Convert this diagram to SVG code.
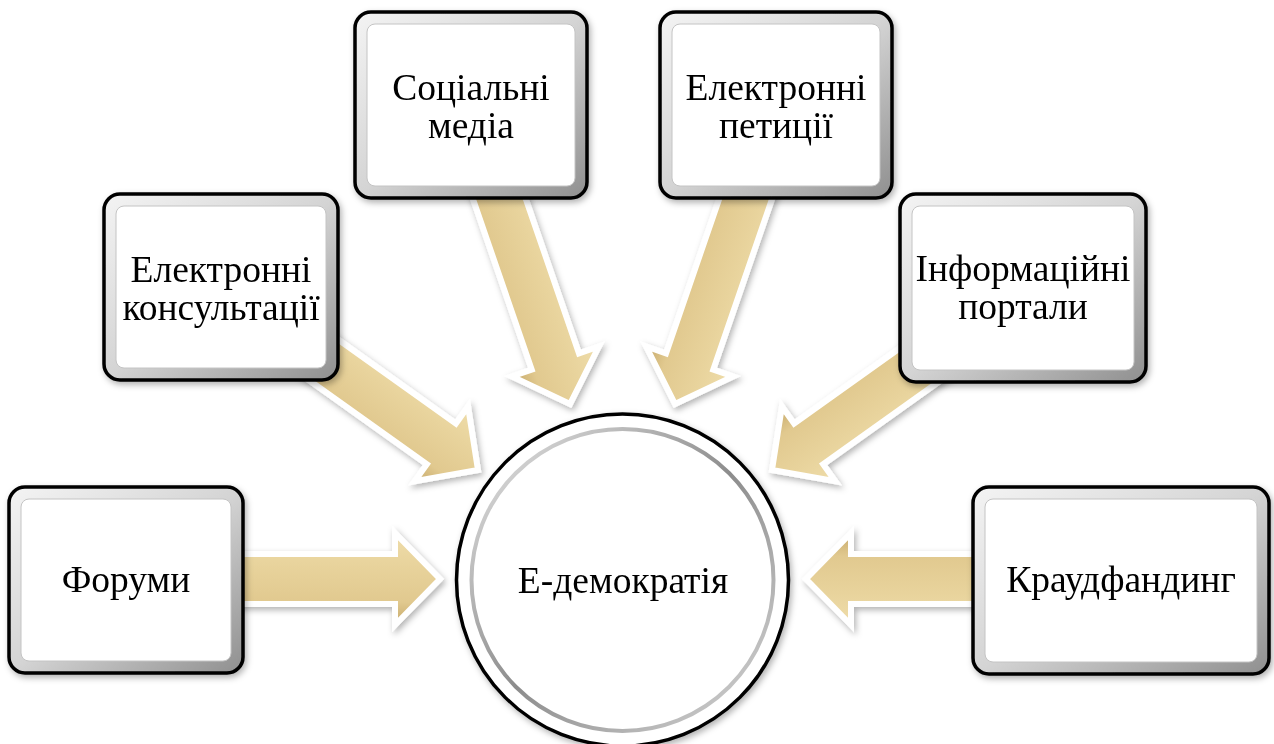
<svg xmlns="http://www.w3.org/2000/svg" width="1274" height="744" viewBox="0 0 1274 744">
<style>
.lbl{font-family:"Liberation Serif","Times New Roman",serif;font-size:37.5px;fill:#000;text-anchor:middle}
.outer{fill:url(#bevel);stroke:#000;stroke-width:3.5}
.inner{fill:#fff;stroke:#c4c4c4;stroke-width:1}
.arr{fill:url(#tan);stroke:#fff;stroke-width:6;stroke-linejoin:miter}
</style>
<defs>
<linearGradient id="bevel" x1="0" y1="0" x2="1" y2="1">
<stop offset="0" stop-color="#f4f4f4"/>
<stop offset="0.5" stop-color="#d4d4d4"/>
<stop offset="1" stop-color="#8f8f8f"/>
</linearGradient>
<linearGradient id="tan" x1="0" y1="0" x2="0" y2="1">
<stop offset="0" stop-color="#efddaa"/>
<stop offset="0.35" stop-color="#e8d39c"/>
<stop offset="0.75" stop-color="#e1c98f"/>
<stop offset="1" stop-color="#c6a96a"/>
</linearGradient>
<linearGradient id="ring" x1="0" y1="0" x2="1" y2="1">
<stop offset="0" stop-color="#e8e8e8"/>
<stop offset="0.5" stop-color="#8c8c8c"/>
<stop offset="1" stop-color="#d8d8d8"/>
</linearGradient>
<filter id="sh" x="-20%" y="-20%" width="140%" height="140%">
<feDropShadow dx="2" dy="3" stdDeviation="3" flood-color="#000" flood-opacity="0.3"/>
</filter>
</defs>
<rect width="1274" height="744" fill="#fff"/>
<g id="connectors">
<g filter="url(#sh)"><path class="arr" transform="translate(440,579)" d="M-215,-25 L-45,-25 L-45,-46 L0,0 L-45,46 L-45,25 L-215,25 Z"/></g>
<g filter="url(#sh)"><path class="arr" transform="translate(806,579) rotate(180)" d="M-190,-25 L-45,-25 L-45,-46 L0,0 L-45,46 L-45,25 L-190,25 Z"/></g>
<g filter="url(#sh)"><path class="arr" transform="translate(478,470) rotate(35.5)" d="M-200,-25 L-45,-25 L-45,-46 L0,0 L-45,46 L-45,25 L-200,25 Z"/></g>
<g filter="url(#sh)"><path class="arr" transform="translate(772,470) rotate(144.5)" d="M-200,-25 L-45,-25 L-45,-46 L0,0 L-45,46 L-45,25 L-200,25 Z"/></g>
<g filter="url(#sh)"><path class="arr" transform="translate(570,404) rotate(71)" d="M-235,-25 L-45,-25 L-45,-46 L0,0 L-45,46 L-45,25 L-235,25 Z"/></g>
<g filter="url(#sh)"><path class="arr" transform="translate(675,404) rotate(109)" d="M-235,-25 L-45,-25 L-45,-46 L0,0 L-45,46 L-45,25 L-235,25 Z"/></g>
</g>
<g id="center" filter="url(#sh)">
<circle cx="622.5" cy="580" r="166" fill="#fff" stroke="#000" stroke-width="3.5"/>
<circle cx="622.5" cy="580" r="151" fill="#fff" stroke="url(#ring)" stroke-width="4"/>
<text class="lbl" x="623" y="593">Е-демократія</text>
</g>
<g id="forumy" filter="url(#sh)">
<rect class="outer" x="9" y="487" width="234" height="186" rx="16"/>
<rect class="inner" x="21" y="499" width="210" height="162" rx="8"/>
<text class="lbl" x="126" y="592">Форуми</text>
</g>
<g id="konsultatsii" filter="url(#sh)">
<rect class="outer" x="104" y="194" width="234" height="186" rx="16"/>
<rect class="inner" x="116" y="206" width="210" height="162" rx="8"/>
<text class="lbl" x="221" y="282">Електронні</text>
<text class="lbl" x="221" y="320">консультації</text>
</g>
<g id="sotsialni" filter="url(#sh)">
<rect class="outer" x="355" y="12" width="232" height="186" rx="16"/>
<rect class="inner" x="367" y="24" width="208" height="162" rx="8"/>
<text class="lbl" x="471" y="100">Соціальні</text>
<text class="lbl" x="471" y="138">медіа</text>
</g>
<g id="petytsii" filter="url(#sh)">
<rect class="outer" x="660" y="12" width="232" height="186" rx="16"/>
<rect class="inner" x="672" y="24" width="208" height="162" rx="8"/>
<text class="lbl" x="776" y="100">Електронні</text>
<text class="lbl" x="776" y="138">петиції</text>
</g>
<g id="portaly" filter="url(#sh)">
<rect class="outer" x="900" y="194" width="246" height="188" rx="16"/>
<rect class="inner" x="912" y="206" width="222" height="164" rx="8"/>
<text class="lbl" x="1023" y="281">Інформаційні</text>
<text class="lbl" x="1023" y="319">портали</text>
</g>
<g id="kraudfandyng" filter="url(#sh)">
<rect class="outer" x="973" y="487" width="296" height="187" rx="16"/>
<rect class="inner" x="985" y="499" width="272" height="163" rx="8"/>
<text class="lbl" x="1121" y="592">Краудфандинг</text>
</g>
</svg>
